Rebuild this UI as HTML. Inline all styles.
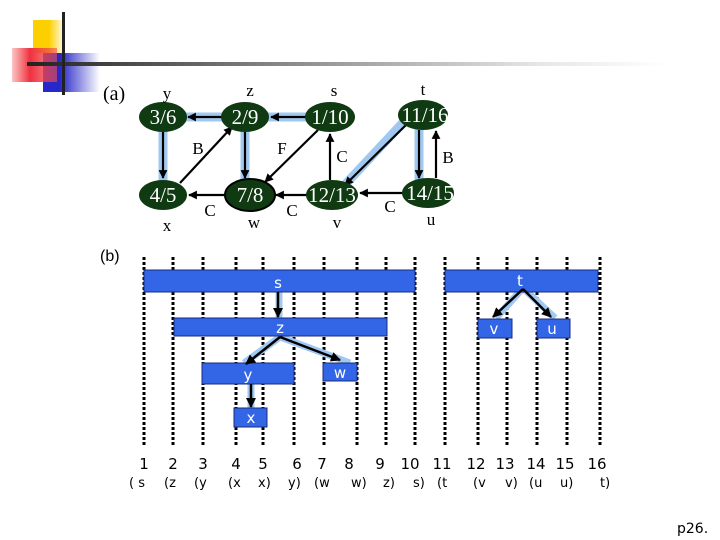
<!DOCTYPE html>
<html><head><meta charset="utf-8"><style>
html,body{margin:0;padding:0;background:#fff}
svg{display:block}
</style></head><body>
<svg width="720" height="540" viewBox="0 0 720 540" xmlns="http://www.w3.org/2000/svg">
<defs>
<linearGradient id="gy" x1="0" x2="1"><stop offset="0.5" stop-color="#fcd000"/><stop offset="1" stop-color="#fcd000" stop-opacity="0"/></linearGradient>
<linearGradient id="gr" x1="0" x2="1"><stop offset="0" stop-color="#f04040" stop-opacity="0.3"/><stop offset="0.4" stop-color="#f03040"/><stop offset="1" stop-color="#f05050" stop-opacity="0.6"/></linearGradient>
<linearGradient id="gb" x1="0" x2="1"><stop offset="0.3" stop-color="#2828c8"/><stop offset="1" stop-color="#2828c8" stop-opacity="0"/></linearGradient>
<linearGradient id="gl" x1="0" x2="1"><stop offset="0" stop-color="#222"/><stop offset="0.4" stop-color="#888"/><stop offset="0.8" stop-color="#e6e6e6"/><stop offset="1" stop-color="#fff"/></linearGradient>
<marker id="a" viewBox="0 0 10 10" refX="9" refY="5" markerWidth="4" markerHeight="4" orient="auto"><path d="M0,0L10,5L0,10z" fill="#000"/></marker>
</defs>
<!-- logo -->
<rect x="33" y="20" width="32" height="33" fill="url(#gy)"/>
<rect x="43" y="53" width="57" height="39" fill="url(#gb)"/>
<rect x="12" y="48" width="45" height="34" fill="url(#gr)"/>
<rect x="27" y="62" width="640" height="4" fill="url(#gl)"/>
<rect x="62" y="12" width="3" height="83" fill="#222"/>
<g font-family="Liberation Serif, serif" font-size="20" fill="#000">
<text x="103" y="100">(a)</text>
</g>
<!-- highlight edges -->
<g stroke="#a0c8f0" stroke-width="9" fill="none">
<line x1="163" y1="117" x2="245" y2="117"/>
<line x1="245" y1="117" x2="330" y2="117"/>
<line x1="163" y1="117" x2="163" y2="195"/>
<line x1="245" y1="117" x2="245" y2="195"/>
<line x1="412" y1="113" x2="340" y2="190"/>
<line x1="419" y1="117" x2="419" y2="193"/>
</g>
<g stroke="#000" stroke-width="2.2" fill="none" marker-end="url(#a)">
<line x1="222" y1="117" x2="188" y2="117"/>
<line x1="307" y1="117" x2="271" y2="117"/>
<line x1="163" y1="132" x2="163" y2="178"/>
<line x1="245" y1="132" x2="245" y2="178"/>
<line x1="180" y1="183" x2="232" y2="127"/>
<line x1="318" y1="130" x2="265" y2="182"/>
<line x1="330" y1="180" x2="330" y2="134"/>
<line x1="407" y1="124" x2="345" y2="185"/>
<line x1="419" y1="130" x2="419" y2="178"/>
<line x1="436" y1="178" x2="436" y2="131"/>
<line x1="403" y1="193" x2="360" y2="193"/>
<line x1="308" y1="195" x2="276" y2="195"/>
<line x1="225" y1="195" x2="189" y2="195"/>
</g>
<g fill="#0f3a12">
<ellipse cx="163" cy="117" rx="24" ry="15"/>
<ellipse cx="245" cy="117" rx="24" ry="15"/>
<ellipse cx="330" cy="117" rx="25" ry="15"/>
<ellipse cx="423" cy="115" rx="25" ry="15"/>
<ellipse cx="163" cy="195" rx="24" ry="15"/>
<ellipse cx="250" cy="195" rx="25" ry="16" stroke="#000" stroke-width="2"/>
<ellipse cx="332" cy="195" rx="26" ry="15"/>
<ellipse cx="428" cy="193" rx="26" ry="15"/>
</g>
<g font-family="Liberation Serif, serif" font-size="21" fill="#fff" text-anchor="middle">
<text x="163" y="124">3/6</text><text x="245" y="124">2/9</text><text x="330" y="124">1/10</text><text x="425" y="122">11/16</text>
<text x="163" y="202">4/5</text><text x="250" y="202">7/8</text><text x="332" y="202">12/13</text><text x="430" y="200">14/15</text>
</g>
<g font-family="Liberation Serif, serif" font-size="17" fill="#000" text-anchor="middle">
<text x="167" y="99">y</text><text x="250" y="96">z</text><text x="334" y="96">s</text><text x="423" y="95">t</text>
<text x="167" y="231">x</text><text x="254" y="228">w</text><text x="337" y="228">v</text><text x="431" y="225">u</text>
<text x="198" y="154">B</text><text x="282" y="154">F</text><text x="342" y="162">C</text><text x="448" y="163">B</text>
<text x="210" y="216">C</text><text x="292" y="216">C</text><text x="390" y="212">C</text>
</g>
<!-- (b) -->
<text x="100" y="261" font-family="Liberation Sans, sans-serif" font-size="16">(b)</text>
<g stroke="#000" stroke-width="3" stroke-dasharray="3,2">
<line x1="144" y1="257" x2="144" y2="447"/><line x1="173" y1="257" x2="173" y2="447"/><line x1="203" y1="257" x2="203" y2="447"/><line x1="236" y1="257" x2="236" y2="447"/><line x1="263" y1="257" x2="263" y2="447"/><line x1="294" y1="257" x2="294" y2="447"/><line x1="324" y1="257" x2="324" y2="447"/><line x1="357" y1="257" x2="357" y2="447"/><line x1="386" y1="257" x2="386" y2="447"/><line x1="415" y1="257" x2="415" y2="447"/><line x1="445" y1="257" x2="445" y2="447"/><line x1="478" y1="257" x2="478" y2="447"/><line x1="507" y1="257" x2="507" y2="447"/><line x1="537" y1="257" x2="537" y2="447"/><line x1="567" y1="257" x2="567" y2="447"/><line x1="600" y1="257" x2="600" y2="447"/>
</g>
<g stroke="#a0c8f0" stroke-width="7" fill="none">
<line x1="279" y1="292" x2="279" y2="318"/>
<line x1="280" y1="337" x2="244" y2="363"/>
<line x1="280" y1="337" x2="350" y2="363"/>
<line x1="251" y1="384" x2="251" y2="408"/>
<line x1="523" y1="288" x2="496" y2="318"/>
<line x1="523" y1="288" x2="555" y2="318"/>
</g>
<g fill="#3366e6" stroke="#1a2a80" stroke-width="1">
<rect x="144" y="270" width="271" height="22"/>
<rect x="445" y="270" width="153" height="22"/>
<rect x="174" y="318" width="213" height="18"/>
<rect x="202" y="363" width="92" height="21"/>
<rect x="323" y="363" width="34" height="18"/>
<rect x="234" y="408" width="33" height="19"/>
<rect x="478" y="319" width="34" height="19"/>
<rect x="537" y="319" width="33" height="19"/>
</g>
<g stroke="#000" stroke-width="2.5" fill="none" marker-end="url(#a)">
<line x1="278" y1="292" x2="278" y2="317"/>
<line x1="280" y1="337" x2="246" y2="364"/>
<line x1="280" y1="337" x2="340" y2="360"/>
<line x1="251" y1="384" x2="251" y2="407"/>
<line x1="523" y1="289" x2="493" y2="317"/>
<line x1="523" y1="289" x2="551" y2="317"/>
</g>
<g font-family="DejaVu Sans, sans-serif" font-size="15" fill="#fff" text-anchor="middle">
<text x="278" y="288">s</text><text x="520" y="286">t</text><text x="280" y="333">z</text>
<text x="248" y="380">y</text><text x="340" y="378">w</text><text x="251" y="423">x</text>
<text x="494" y="334">v</text><text x="552" y="334">u</text>
</g>
<g font-family="DejaVu Sans, sans-serif" font-size="15" fill="#000" text-anchor="middle">
<text x="144" y="469">1</text><text x="173" y="469">2</text><text x="203" y="469">3</text><text x="236" y="469">4</text><text x="263" y="469">5</text><text x="297" y="469">6</text><text x="322" y="469">7</text><text x="349" y="469">8</text><text x="380" y="469">9</text><text x="410" y="469">10</text><text x="442" y="469">11</text><text x="476" y="469">12</text><text x="505" y="469">13</text><text x="536" y="469">14</text><text x="565" y="469">15</text><text x="597" y="469">16</text>
</g>
<g font-family="DejaVu Sans, sans-serif" font-size="13" fill="#000">
<text x="129" y="487">( s</text><text x="164" y="487">(z</text><text x="194" y="487">(y</text><text x="228" y="487">(x</text><text x="258" y="487">x)</text><text x="288" y="487">y)</text><text x="314" y="487">(w</text><text x="351" y="487">w)</text><text x="383" y="487">z)</text><text x="413" y="487">s)</text><text x="437" y="487">(t</text><text x="473" y="487">(v</text><text x="505" y="487">v)</text><text x="529" y="487">(u</text><text x="560" y="487">u)</text><text x="600" y="487">t)</text>
</g>
<text x="677" y="533" font-family="DejaVu Sans, sans-serif" font-size="14" fill="#000">p26.</text>
</svg>
</body></html>
